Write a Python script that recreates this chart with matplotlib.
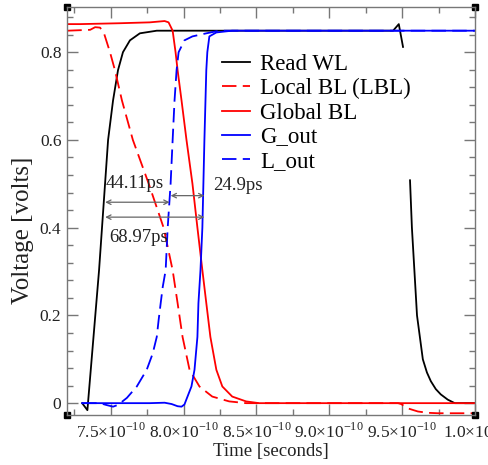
import matplotlib
matplotlib.use("Agg")
import matplotlib.pyplot as plt
import numpy as np
from matplotlib.ticker import FixedLocator, MultipleLocator, FixedFormatter

plt.rcParams['font.family'] = ['Liberation Serif', 'DejaVu Serif']
plt.rcParams['mathtext.fontset'] = 'custom'
plt.rcParams['mathtext.rm'] = 'Liberation Serif'

## data (time in units of 1e-10 s, voltage in volts)
read_wl_t = [7.304, 7.340, 7.420, 7.439, 7.482, 7.516, 7.550, 7.584, 7.632, 7.700, 7.816,
             9.438, 9.477, 9.506, np.nan,
             9.554, 9.567, 9.602, 9.642, 9.670, 9.697, 9.731, 9.765, 9.813, 9.861, 10.0]
read_wl_v = [0.0, -0.016, 0.303, 0.394, 0.60, 0.69, 0.759, 0.80, 0.827, 0.843, 0.849,
             0.849, 0.864, 0.812, np.nan,
             0.508, 0.40, 0.20, 0.10, 0.07, 0.05, 0.032, 0.02, 0.008, 0.0, 0.0]

lbl_t = [7.202, 7.359, 7.393, 7.427, 7.454, 7.495, 7.529, 7.577, 7.652, 7.761, 7.863,
         7.925, 7.959, 7.993, 8.041, 8.109, 8.197, 8.313, 8.429,
         9.472, 9.493, 9.540, 9.608, 9.676, 9.745, 10.0]
lbl_v = [0.849, 0.851, 0.857, 0.856, 0.843, 0.80, 0.759, 0.69, 0.60, 0.50, 0.40,
         0.303, 0.228, 0.151, 0.076, 0.038, 0.015, 0.004, 0.0,
         0.0, -0.002, -0.012, -0.019, -0.022, -0.023, -0.023]

gbl_t = [7.202, 7.291, 7.563, 7.768, 7.870, 7.897, 7.925, 7.945, 7.959, 7.986, 8.020,
         8.061, 8.095, 8.129, 8.156, 8.184, 8.225, 8.266, 8.334, 8.429, 8.518, 10.0]
gbl_v = [0.864, 0.864, 0.866, 0.868, 0.871, 0.868, 0.849, 0.80, 0.759, 0.69, 0.60,
         0.50, 0.40, 0.303, 0.228, 0.151, 0.076, 0.038, 0.015, 0.004, 0.0, 0.0]

g_out_t = [7.304, 7.768, 7.870, 7.918, 7.959, 7.986, 8.006, 8.027, 8.054, 8.075, 8.095,
           8.102, 8.116, 8.129, 8.136, 8.143, 8.156, 8.163, 8.177, 8.225, 8.334, 10.0]
g_out_v = [0.0, 0.0, 0.001, -0.002, -0.007, -0.008, -0.003, 0.015, 0.038, 0.076, 0.151,
           0.228, 0.303, 0.40, 0.50, 0.60, 0.759, 0.80, 0.836, 0.845, 0.849, 0.849]

l_out_t = [7.304, 7.427, 7.468, 7.516, 7.550, 7.611, 7.679, 7.747, 7.788, 7.816, 7.829,
           7.843, 7.857, 7.877, 7.891, 7.911, 7.925, 7.938, 7.952, 7.966, 8.006, 8.061,
           8.156, 8.245, 10.0]
l_out_v = [0.0, 0.0, -0.004, -0.008, -0.004, 0.012, 0.038, 0.076, 0.113, 0.151, 0.19,
           0.228, 0.265, 0.303, 0.40, 0.50, 0.60, 0.69, 0.759, 0.80, 0.827, 0.836,
           0.843, 0.849, 0.849]

# delay annotations: (start, end, y, label, label_x, label_y)
delays = [
    (7.462, 7.904, 0.458, "44.11ps", 7.462, 0.500),
    (7.911, 8.143, 0.473, "24.9ps", 8.20, 0.497),
    (7.462, 8.143, 0.424, "68.97ps", 7.49, 0.378),
]

x_ticks = [7.5, 8.0, 8.5, 9.0, 9.5, 10.0]
x_labels = ["7.5×10$^{-10}$", "8.0×10$^{-10}$", "8.5×10$^{-10}$",
            "9.0×10$^{-10}$", "9.5×10$^{-10}$", "1.0×10$^{-9}$"]
y_ticks = [0, 0.2, 0.4, 0.6, 0.8]
y_labels = ["0", "0.2", "0.4", "0.6", "0.8"]

##
fig = plt.figure(figsize=(4.89, 4.65), dpi=100)
ax = fig.add_axes([67 / 489, 50 / 465, 408 / 489, 408 / 465])

s = 1e-10
lw = 1.3
ax.plot(np.array(read_wl_t) * s, read_wl_v, color='black', lw=lw, label='Read WL')
ax.plot(np.array(lbl_t) * s, lbl_v, color='#ff0000', lw=lw, dashes=(8, 3.5), label='Local BL (LBL)')
ax.plot(np.array(gbl_t) * s, gbl_v, color='#ff0000', lw=lw, label='Global BL')
ax.plot(np.array(g_out_t) * s, g_out_v, color='#0000ff', lw=lw, label='G_out')
ax.plot(np.array(l_out_t) * s, l_out_v, color='#0000ff', lw=lw, dashes=(8, 3.5), label='L_out')

for t0, t1, y, txt, tx, ty in delays:
    ax.annotate("", xy=(t1 * s, y), xytext=(t0 * s, y),
                arrowprops=dict(arrowstyle='<->', color='#666666', lw=0.9,
                                shrinkA=0, shrinkB=0, mutation_scale=8))
    ax.text(tx * s, ty, txt, fontsize=13.5, color='#222222', va='center', ha='left')

ax.set_xlim(7.2e-10, 1.0e-9)
ax.set_ylim(-0.027, 0.903)

ax.xaxis.set_major_locator(FixedLocator([v * s for v in x_ticks]))
ax.xaxis.set_major_formatter(FixedFormatter(x_labels))
ax.xaxis.set_minor_locator(MultipleLocator(0.25e-10))
ax.yaxis.set_major_locator(FixedLocator(y_ticks))
ax.yaxis.set_major_formatter(FixedFormatter(y_labels))
ax.yaxis.set_minor_locator(MultipleLocator(0.04))

frame_c = '#777777'
for sp in ax.spines.values():
    sp.set_color(frame_c)
    sp.set_linewidth(1.0)
ax.tick_params(which='both', direction='in', top=True, right=True, color=frame_c,
               labelcolor='#222222')
ax.tick_params(which='major', length=8, width=1.0)
ax.tick_params(which='minor', length=4.5, width=1.0)
ax.tick_params(axis='x', pad=5, labelsize=12.5)
ax.tick_params(axis='y', pad=4, labelsize=12.5)

ax.set_xlabel("Time [seconds]", fontsize=13.5, color='#222222', labelpad=1)
ax.set_ylabel("Voltage [volts]", fontsize=18, color='#222222')
ax.yaxis.set_label_coords(-0.082, 0.453)

# corner markers
for cx in (0, 1):
    for cy in (0, 1):
        ax.plot(cx, cy, 's', color='black', ms=4, transform=ax.transAxes, clip_on=False)

ax.legend(loc='upper left', bbox_to_anchor=(0.381, 0.884), frameon=False, fontsize=16.5,
          handlelength=1.2, handletextpad=0.45, labelspacing=0.13, borderpad=0,
          borderaxespad=0)

fig.savefig("out.png", dpi=100)
